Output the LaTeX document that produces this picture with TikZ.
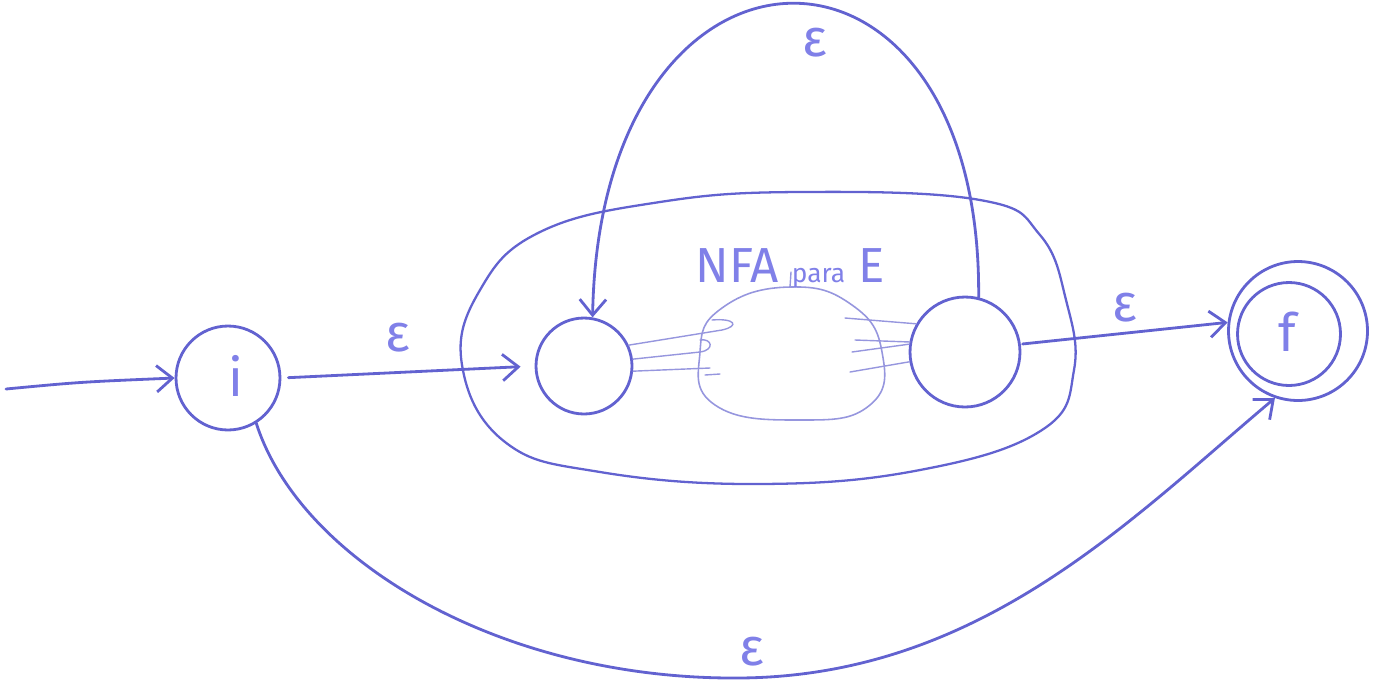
\documentclass[tikz,border=0pt]{standalone}
\usepackage{fontspec}
\setmainfont{Fira Sans}
\usetikzlibrary{arrows.meta}
\definecolor{ink}{RGB}{98,98,208}
\definecolor{txt}{RGB}{128,128,232}
\definecolor{faint}{RGB}{150,150,222}
\begin{document}
\begin{tikzpicture}[x=0.02cm,y=-0.02cm,
  pen/.style={draw=ink,line width=1.6pt,line cap=round,line join=round},
  arr/.style={pen,-{Straight Barb[length=9pt,width=15pt,line width=1.6pt]}},
  state/.style={circle,pen,minimum size=#1,inner sep=0pt},
  lbl/.style={text=txt,font=\fontsize{30}{34}\selectfont},
  thin/.style={draw=faint,line width=0.8pt,line cap=round}]
\useasboundingbox (0,0) rectangle (1379,680);
% outer region
\draw[pen,line width=1.3pt] plot[smooth cycle,tension=0.7] coordinates{
 (462,365) (480,290) (540,232) (660,202) (800,192) (980,200) (1040,235) (1066,300)
 (1074,370) (1042,430) (920,470) (760,484) (600,472) (505,442)};
% states
\node[state=2.08cm] (i) at (228,378) {};
\node[lbl] at (236,376) {i};
\node[state=1.92cm] (l) at (584,366) {};
\node[state=2.2cm] (r) at (965,352) {};
\node[state=2.78cm] (f) at (1298,331) {};
\node[state=2.06cm] (fi) at (1289,334) {};
\node[lbl] at (1287,332) {f};
% inner blob
\draw[draw=faint,line width=0.9pt] plot[smooth cycle,tension=0.8] coordinates{
 (700,352) (722,308) (790,287) (852,305) (882,352) (870,405) (800,420) (715,405)};
\draw[thin] (790,287) -- (791,272);
\node[text=txt,font=\fontsize{28}{32}\selectfont,anchor=base] (title) at (790,282)
 {NFA {\fontsize{15}{18}\selectfont para} E};
% faint transitions
\draw[thin] (l.25) -- (722,330) .. controls (740,326) and (735,318) .. (712,320);
\draw[thin] (l.8) -- (700,352) .. controls (715,350) and (712,338) .. (700,340);
\draw[thin] (l.-6) -- (710,368);
\draw[thin] (705,375) -- (720,374);
\draw[thin] (845,318) -- (r.150);
\draw[thin] (852,352) -- (r.172);
\draw[thin] (850,372) -- (r.-170);
\draw[thin] (855,340) -- (910,342);
% start
\coordinate (s) at (6,389);
\draw[arr] (s) .. controls (80,382) .. (i.west);
% transitions
\draw[arr,shorten <=4pt,shorten >=8pt] (i.east) -- (l.west);
\node[lbl] at (398,338) {ε};
\draw[arr,shorten <=1pt] (r.8) -- (f.173);
\node[lbl] at (1125,308) {ε};
\draw[arr] (r.76) .. controls (982,-100) and (600,-95) .. (l.80);
\node[lbl] at (815,43) {ε};
\draw[arr] (i.-58) .. controls (300,560) and (500,680) .. (740,678)
  .. controls (980,676) and (1130,520) .. (f.-109);
\node[lbl] at (752,652) {ε};
\end{tikzpicture}
\end{document}
